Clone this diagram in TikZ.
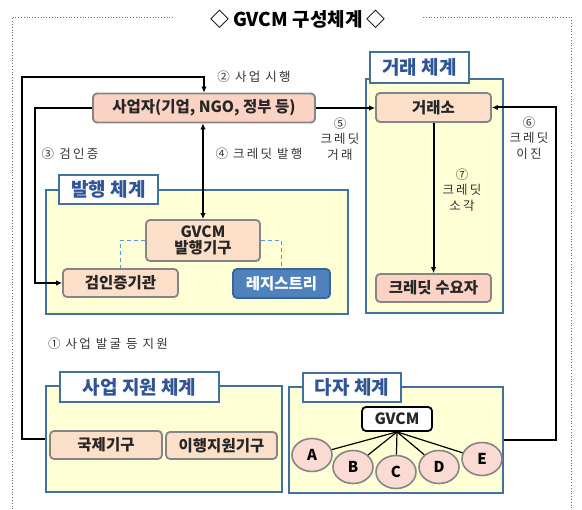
\documentclass[tikz,border=0pt]{standalone}
\usepackage{fontspec}
\setmainfont{Noto Sans CJK KR}
\newfontfamily\lblfont[LetterSpace=18]{Noto Sans CJK KR}
\usetikzlibrary{shapes.geometric,arrows.meta,calc}
\definecolor{yfill}{HTML}{FFFFD5}
\definecolor{fblue}{HTML}{41719C}
\definecolor{tblue}{HTML}{2F5597}
\definecolor{peach}{HTML}{FCDFC9}
\definecolor{pinkb}{HTML}{FAD3C4}
\definecolor{bgrey}{HTML}{858585}
\definecolor{regfill}{HTML}{4F81BD}
\definecolor{regline}{HTML}{3A6496}
\definecolor{ellfill}{HTML}{FADBD4}
\definecolor{dashblue}{HTML}{5B9BD5}
\definecolor{lbltext}{HTML}{333333}
\begin{document}
\begin{tikzpicture}[x=1pt,y=-1pt,
  frame/.style={draw=fblue, line width=1.6pt, fill=yfill, inner sep=0pt},
  tab/.style={draw=fblue, line width=1.6pt, fill=white, inner sep=0pt, text=tblue, font=\fontsize{19}{21}\selectfont\bfseries},
  box/.style={draw=bgrey, line width=1.8pt, rounded corners=4pt, fill=peach, inner sep=0pt, text=black!85, font=\fontsize{15.5}{17}\selectfont\bfseries, align=center},
  regbox/.style={draw=regline, line width=1.8pt, rounded corners=4pt, fill=regfill, inner sep=0pt, text=white, font=\fontsize{15.5}{17}\selectfont\bfseries},
  ell/.style={ellipse, draw=bgrey, line width=1.6pt, fill=ellfill, minimum width=40pt, minimum height=33pt, inner sep=0pt, font=\fontsize{15}{16}\selectfont\bfseries},
  conn/.style={line width=2pt, -{Latex[length=6pt,width=5.5pt]}},
  lbl/.style={text=lbltext, font=\fontsize{12.5}{15.5}\lblfont, align=center, inner sep=0pt},
  outer/.style={draw=black!55, dotted, line width=0.8pt}
]
\useasboundingbox (0,0) rectangle (582,510);

% outer dotted frame and title
\draw[outer] (173,17) -- (12,17) -- (12,515);
\draw[outer] (423,17) -- (571,17) -- (571,515);
\node[font=\fontsize{19}{21}\selectfont\bfseries, inner sep=0pt] (title) at (298,19) {◇ GVCM 구성체계 ◇};

% frames
\node[frame, minimum width=302pt, minimum height=124pt] (fissue) at (197,252) {};
\node[tab, minimum width=99pt, minimum height=29pt] (tissue) at (108.5,189.5) {발행 체계};
\node[frame, minimum width=137pt, minimum height=234pt] (ftrade) at (434.5,196) {};
\node[tab, minimum width=99pt, minimum height=31pt] (ttrade) at (419.5,67.5) {거래 체계};
\node[frame, minimum width=236pt, minimum height=106pt] (fsupport) at (164,439) {};
\node[tab, minimum width=159pt, minimum height=30pt] (tsupport) at (139.5,387) {사업 지원 체계};
\node[frame, minimum width=214pt, minimum height=106pt] (fmulti) at (396,440) {};
\node[tab, minimum width=98pt, minimum height=29pt] (tmulti) at (352,387.5) {다자 체계};

% boxes
\node[box, fill=pinkb, minimum width=222pt, minimum height=29pt] (saup) at (204,108) {사업자(기업, NGO, 정부 등)};
\node[box, minimum width=114pt, minimum height=41pt, font=\fontsize{15.5}{16.5}\selectfont\bfseries] (issuer) at (203,240.5) {GVCM\\발행기구};
\node[box, minimum width=115pt, minimum height=28pt] (verif) at (120.5,283) {검인증기관};
\node[regbox, minimum width=97pt, minimum height=29pt] (reg) at (281.5,283.5) {레지스트리};
\node[box, minimum width=115pt, minimum height=29pt] (exch) at (433.5,107.5) {거래소};
\node[box, fill=pinkb, minimum width=115pt, minimum height=28pt] (buyer) at (433.5,288) {크레딧 수요자};
\node[box, minimum width=112pt, minimum height=28pt] (intl) at (106,445) {국제기구};
\node[box, minimum width=111pt, minimum height=27pt] (impl) at (221.5,445.5) {이행지원기구};
\node[box, draw=black, fill=white, line width=1.8pt, minimum width=70pt, minimum height=24pt] (gsmall) at (397,419) {GVCM};

% multilateral circles
\node[ell] (A) at (312,455) {A};
\node[ell] (B) at (353,467) {B};
\node[ell] (C) at (396,472) {C};
\node[ell] (D) at (439,467) {D};
\node[ell] (E) at (482,459) {E};
\draw[line width=1.2pt] (gsmall.south) -- (A);
\draw[line width=1.2pt] (gsmall.south) -- (B);
\draw[line width=1.2pt] (gsmall.south) -- (C);
\draw[line width=1.2pt] (gsmall.south) -- (D);
\draw[line width=1.2pt] (gsmall.south) -- (E);

% dashed links
\draw[dashblue, dash pattern=on 4pt off 3pt, line width=1.8pt] (issuer.west) -| (verif.north);
\draw[dashblue, dash pattern=on 4pt off 3pt, line width=1.8pt] (issuer.east) -| (reg.north);

% connectors
\draw[conn] (fsupport.west) -| (22,77) -| (saup.north);
\draw[conn] (saup.west) -| (35,200) |- (verif.west);
\draw[line width=2pt, {Latex[length=6pt,width=5.5pt]}-{Latex[length=6pt,width=5.5pt]}] (issuer.north |- saup.south) -- (issuer.north);
\draw[conn] (saup.east) -- (exch.west |- saup.east);
\draw[conn] (fmulti.east) -| (556,200) |- (exch.east);
\draw[conn] (exch.south) -- (buyer.north);

% labels
\node[lbl] (l2) at (254,77) {② 사업 시행};
\node[lbl] (l3) at (70,154) {③ 검인증};
\node[lbl] (l4) at (259,154) {④ 크레딧 발행};
\node[lbl] (l5) at (340,139) {⑤\\크레딧\\거래};
\node[lbl] (l6) at (529,138) {⑥\\크레딧\\이진};
\node[lbl] (l7) at (462,190) {⑦\\크레딧\\소각};
\node[lbl] (l1) at (108,344) {① 사업 발굴 등 지원};
\end{tikzpicture}
\end{document}
